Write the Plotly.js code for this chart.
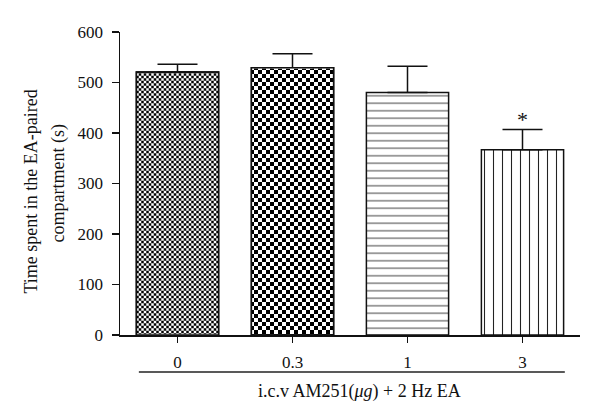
<!DOCTYPE html>
<html>
<head>
<meta charset="utf-8">
<script src="https://cdn.plot.ly/plotly-3.0.1.min.js"></script>
<style>
  html, body { margin: 0; padding: 0; background: #fff; }
  #chart { width: 600px; height: 420px; }
  /* second bar trace inverts the stripes below it -> checkerboard */
  #chart .barlayer .trace:nth-child(2) path { mix-blend-mode: difference; }
</style>
</head>
<body>
<div id="chart"></div>
<script>
// ---- data ----
const doses = ['0', '0.3', '1', '3'];            // i.c.v AM251 (μg)
const timeSpent = [521, 529, 480, 367];          // mean time (s)
const semUpper = [15, 28, 52, 40];               // upper error (s)
const yTicks = [0, 100, 200, 300, 400, 500, 600];
const checkerDoses = doses.slice(0, 2);
const checkerValues = timeSpent.slice(0, 2);
const sigDose = '3';

const FONT = 'Liberation Serif, Times New Roman, serif';
const INK = '#111';

const base = {
  type: 'bar',
  x: doses,
  y: timeSpent,
  marker: {
    color: 'white',
    line: { color: INK, width: 1.5 },
    pattern: {
      shape: ['|', '|', '-', '|'],
      size: [5, 8, 7.5, 9],
      solidity: [0.5, 0.5, 0.15, 0.12],
      fgcolor: ['#000', '#000', '#555', '#222'],
      bgcolor: 'white',
      fillmode: 'replace'
    }
  },
  error_y: {
    type: 'data', symmetric: false,
    array: semUpper, arrayminus: doses.map(() => 0),
    color: INK, thickness: 1.5, width: 20
  },
  hoverinfo: 'skip', showlegend: false
};

const checker = {
  type: 'bar',
  x: checkerDoses,
  y: checkerValues,
  marker: {
    color: 'rgba(0,0,0,0)',
    line: { width: 0 },
    pattern: {
      shape: '-',
      size: [5, 8],
      solidity: 0.5,
      fgcolor: 'white',
      bgcolor: 'rgba(0,0,0,0)',
      fillmode: 'replace'
    }
  },
  hoverinfo: 'skip', showlegend: false
};

const outline = {
  type: 'bar',
  x: checkerDoses,
  y: checkerValues,
  marker: { color: 'rgba(0,0,0,0)', line: { color: INK, width: 1.5 } },
  hoverinfo: 'skip', showlegend: false
};

const layout = {
  width: 600, height: 420,
  margin: { l: 120, r: 20, t: 32, b: 85 },
  paper_bgcolor: 'white', plot_bgcolor: 'white',
  barmode: 'overlay', bargap: 0.285,
  font: { family: FONT, size: 17, color: INK },
  xaxis: {
    type: 'category', range: [-0.5, 3.5],
    showline: true, linecolor: INK, linewidth: 1.5,
    ticks: 'outside', ticklen: 6, tickwidth: 1.5, tickcolor: INK,
    ticklabelstandoff: 5,
    tickfont: { family: FONT, size: 17, color: INK },
    showgrid: false, zeroline: false, fixedrange: true
  },
  yaxis: {
    range: [0, 600], tickmode: 'array', tickvals: yTicks,
    showline: true, linecolor: INK, linewidth: 1.5,
    ticks: 'outside', ticklen: 7, tickwidth: 1.5, tickcolor: INK,
    ticklabelstandoff: 5,
    tickfont: { family: FONT, size: 17, color: INK },
    showgrid: false, zeroline: false, fixedrange: true
  },
  shapes: [{
    type: 'line', xref: 'paper', yref: 'paper',
    x0: 0.041, x1: 0.967, y0: -0.122, y1: -0.122,
    line: { color: '#222', width: 1.5 }
  }],
  annotations: [
    { text: 'Time spent in the EA-paired', xref: 'paper', yref: 'paper', x: 0, y: 0.5,
      xanchor: 'center', yanchor: 'middle', xshift: -90, yshift: -8, textangle: -90,
      showarrow: false, font: { family: FONT, size: 18, color: INK } },
    { text: 'compartment (s)', xref: 'paper', yref: 'paper', x: 0, y: 0.5,
      xanchor: 'center', yanchor: 'middle', xshift: -62, textangle: -90,
      showarrow: false, font: { family: FONT, size: 18, color: INK } },
    { text: 'i.c.v AM251(<i>μg</i>) + 2 Hz EA', xref: 'paper', yref: 'paper', x: 0.5, y: 0,
      xanchor: 'center', yanchor: 'middle', xshift: 9, yshift: -56,
      showarrow: false, font: { family: FONT, size: 18, color: INK } },
    { text: '*', xref: 'x', yref: 'y', x: sigDose,
      y: timeSpent[doses.indexOf(sigDose)] + semUpper[doses.indexOf(sigDose)],
      xanchor: 'center', yanchor: 'bottom', yshift: -5,
      showarrow: false, font: { family: FONT, size: 22, color: INK } }
  ]
};

Plotly.newPlot('chart', [base, checker, outline], layout, { displayModeBar: false, staticPlot: true });
</script>
</body>
</html>
